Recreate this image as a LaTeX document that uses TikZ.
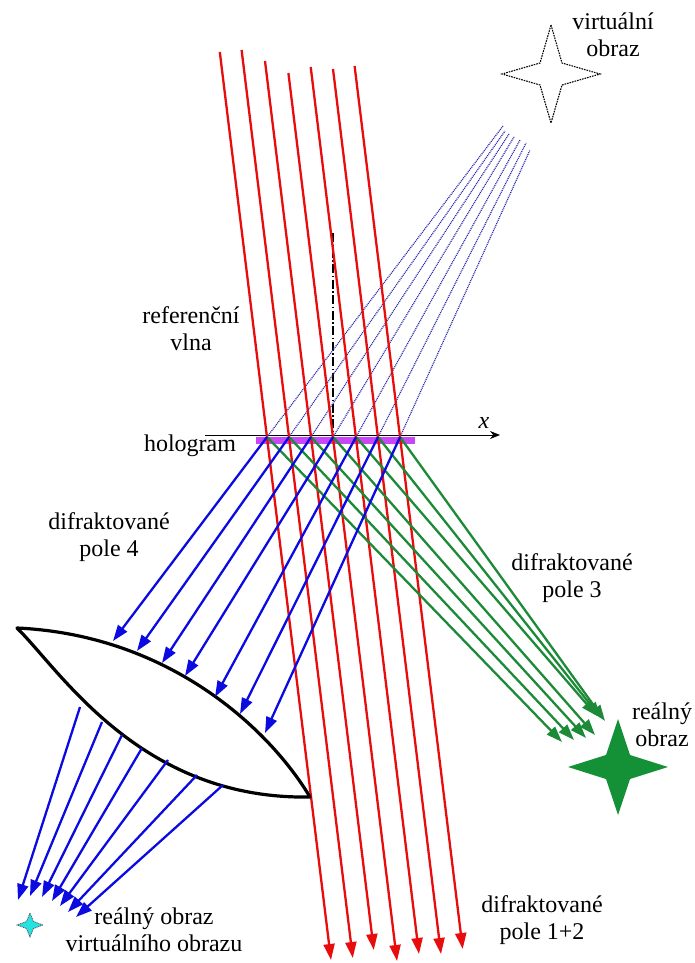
\documentclass[tikz,border=0pt]{standalone}
\usepackage{fontspec}
\setmainfont{Liberation Serif}
\usetikzlibrary{arrows.meta}
\definecolor{rayred}{RGB}{232,12,12}
\definecolor{rayblue}{RGB}{10,10,225}
\definecolor{raygreen}{RGB}{28,138,55}
\definecolor{dotblue}{RGB}{40,40,170}
\definecolor{platecol}{RGB}{200,70,245}
\definecolor{starcyan}{RGB}{40,225,225}
\definecolor{stargreen}{RGB}{20,145,55}
\begin{document}
\begin{tikzpicture}[x=1pt,y=-1pt,
  lbl/.style={font=\fontsize{24}{27}\selectfont, align=center, inner sep=0pt},
  raytip/.style={-{Triangle[length=16pt,width=11pt]}},
  redray/.style={draw=rayred, line width=2.3pt, raytip},
  greenray/.style={draw=raygreen, line width=2.3pt, raytip},
  blueray/.style={draw=rayblue, line width=2.3pt, raytip},
  objray/.style={draw=dotblue, line width=1.2pt, dash pattern=on 1pt off 0.9pt},
  lensline/.style={draw=black, line width=3.2pt, line join=round, fill=white}]
\useasboundingbox (0,0) rectangle (694,963);

% points where the rays meet the hologram plane
\foreach \n/\x in {1/267,2/289,3/311,4/333,5/356,6/378,7/400}
  \coordinate (h\n) at (\x,437);

% reference wave: start points and ends
\foreach \n/\x/\y in {1/219.8/52,2/241.6/50,3/265/61,4/288.4/73,5/310.7/67,6/333/69,7/354.6/66}
  \coordinate (r\n) at (\x,\y);
\foreach \n/\x/\y in {1/331/960,2/352.8/958,3/373.8/950,4/397/961,5/419/954,6/441/954,7/462.7/949}
  \coordinate (rt\n) at (\x,\y);

% object wave (towards the virtual image)
\foreach \n/\x/\y in {1/503/126,2/505/131,3/509/134,4/514/137,5/520/140,6/526/143,7/530/150}
  \coordinate (d\n) at (\x,\y);

% diffracted field 3 (towards the real image)
\foreach \n/\x/\y in {1/562/742,2/574/740,3/586/738,4/595/735,5/597/716,6/601/718,7/605/721}
  \coordinate (g\n) at (\x,\y);

% diffracted field 4 (onto the lens)
\foreach \n/\x/\y in {1/113/641,2/137/651,3/162/663,4/185/676,5/215/697,6/240/714,7/265/733}
  \coordinate (b\n) at (\x,\y);

% field behind the lens
\foreach \n/\x/\y in {1/80/707,2/102/722,3/122/735,4/142/748,5/168/760,6/197/775,7/223/785}
  \coordinate (s\n) at (\x,\y);
\foreach \n/\x/\y in {1/18/900,2/30/896,3/42/897,4/52/901,5/60/906,6/68/912,7/76/917}
  \coordinate (l\n) at (\x,\y);

\coordinate (lensL) at (17,628);
\coordinate (lensR) at (310,797);
\coordinate (axisL) at (205,435);
\coordinate (axisR) at (500,435);
\coordinate (normtop) at (333,233);

% hologram plate and x axis
\fill[platecol] (256,436.5) rectangle (415,444);
\draw[line width=0.9pt, -{Stealth[length=10pt,width=8pt]}] (axisL) -- (axisR);
\draw[line width=1.3pt, dash pattern=on 9pt off 2.5pt on 1.5pt off 2.5pt] (normtop) -- (h4);

% object wave
\foreach \n in {1,...,7} \draw[objray] (h\n) -- (d\n);

% reference wave
\foreach \n in {1,...,7} \draw[redray] (r\n) -- (rt\n);

% diffracted field 3
\foreach \n in {1,...,7} \draw[greenray] (h\n) -- (g\n);

% lens
\draw[lensline] (lensL) .. controls (170,635) and (270,730) .. (lensR)
  .. controls (140,800) and (60,670) .. (lensL) -- cycle;

% diffracted field 4
\foreach \n in {1,...,7} \draw[blueray] (h\n) -- (b\n);
\foreach \n in {1,...,7} \draw[blueray] (s\n) -- (l\n);

% virtual image
\draw[black, line width=1.1pt, dash pattern=on 1.6pt off 1pt, shift={(551,74)}]
  (0,-49) -- (11,-11) -- (49,0) -- (11,11) -- (0,49) -- (-11,11) -- (-49,0) -- (-11,-11) -- cycle;

% real image
\fill[stargreen, shift={(618,767)}]
  (0,-48) -- (12,-12) -- (50,0) -- (12,12) -- (0,48) -- (-12,12) -- (-50,0) -- (-12,-12) -- cycle;

% real image of the virtual image
\draw[draw=black!70, line width=0.7pt, dash pattern=on 1pt off 0.8pt, fill=starcyan, shift={(30,925)}]
  (0,-12) -- (3.5,-3.5) -- (13,0) -- (3.5,3.5) -- (0,12) -- (-3.5,3.5) -- (-13,0) -- (-3.5,-3.5) -- cycle;

% labels
\node[lbl] (tvirt) at (613,35) {virtuální\\obraz};
\node[lbl] (tref) at (191,329) {referenční\\vlna};
\node[lbl] (tholo) at (190,446) {hologram};
\node[lbl] (tx) at (484,423) {\itshape x};
\node[lbl] (tpole4) at (109,537) {difraktované\\pole 4};
\node[lbl] (tpole3) at (572,578) {difraktované\\pole 3};
\node[lbl] (treal) at (662,725) {reálný\\obraz};
\node[lbl] (trealv) at (154,930) {reálný obraz\\virtuálního obrazu};
\node[lbl] (tpole12) at (542,920) {difraktované\\pole 1+2};
\end{tikzpicture}
\end{document}
